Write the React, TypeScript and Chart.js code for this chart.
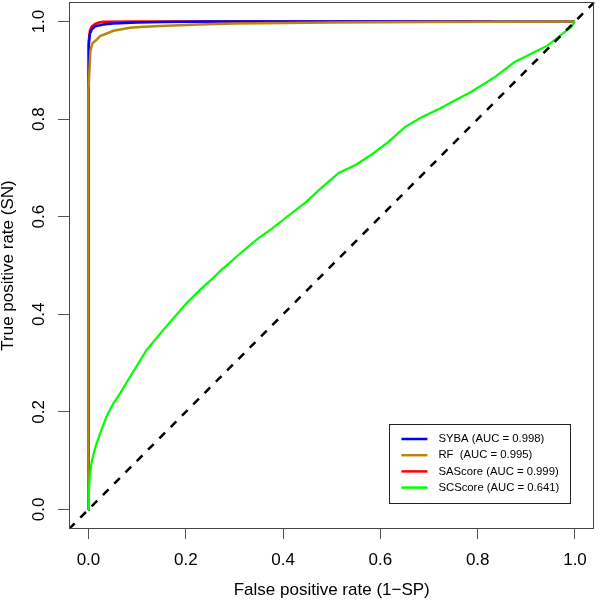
import React, { useEffect, useRef } from "react";
import { Chart, registerables } from "chart.js";

Chart.register(...registerables);

const FONT = '"Liberation Sans", Arial, Helvetica, sans-serif';

const legendLabels = [
  "SYBA (AUC = 0.998)",
  "RF  (AUC = 0.995)",
  "SAScore (AUC = 0.999)",
  "SCScore (AUC = 0.641)",
];
const seriesColors = ["#0000FF", "#B8860B", "#FF0000", "#00FF00"];

const sybaFPR = [0, 0, 0.001, 0.003, 0.007, 0.014, 0.03, 0.05, 0.1, 0.15, 0.25, 0.5, 1.0];
const sybaTPR = [0, 0.9, 0.95, 0.975, 0.984, 0.99, 0.994, 0.996, 0.998, 0.999, 1.0, 1.0, 1.0];

const rfFPR = [0, 0, 0.002, 0.004, 0.008, 0.017, 0.024, 0.044, 0.051, 0.085, 0.106, 0.147, 0.228, 0.3, 0.5, 0.7, 0.85, 1.0];
const rfTPR = [0, 0.86, 0.9, 0.94, 0.955, 0.963, 0.97, 0.978, 0.981, 0.987, 0.989, 0.991, 0.994, 0.996, 0.998, 0.999, 0.9995, 1.0];

const saFPR = [0, 0, 0.001, 0.003, 0.007, 0.014, 0.022, 0.031, 0.1, 0.4, 0.828];
const saTPR = [0, 0.93, 0.96, 0.982, 0.99, 0.995, 0.998, 0.9995, 1.0, 1.0, 1.0];

const scFPR = [0, 0.001, 0.003, 0.007, 0.015, 0.024, 0.037, 0.051, 0.065, 0.085, 0.119, 0.153, 0.201, 0.228, 0.256, 0.27, 0.303, 0.331, 0.351, 0.378, 0.412, 0.447, 0.481, 0.515, 0.549, 0.583, 0.616, 0.651, 0.685, 0.719, 0.753, 0.787, 0.835, 0.876, 0.91, 0.944, 0.971, 0.992, 1.0];
const scTPR = [0, 0.04, 0.07, 0.1, 0.13, 0.156, 0.19, 0.217, 0.238, 0.271, 0.326, 0.367, 0.422, 0.449, 0.474, 0.488, 0.517, 0.541, 0.557, 0.576, 0.603, 0.63, 0.661, 0.69, 0.706, 0.728, 0.753, 0.784, 0.804, 0.82, 0.838, 0.856, 0.886, 0.917, 0.934, 0.951, 0.972, 0.989, 1.0];

const axisMin = -0.04;
const axisMax = 1.04;
const diagonal = [axisMin, axisMax];

const xTicks = [0, 0.2, 0.4, 0.6, 0.8, 1.0];
const xTickLabels = ["0.0", "0.2", "0.4", "0.6", "0.8", "1.0"];
const yTicks = [0, 0.2, 0.4, 0.6, 0.8, 1.0];
const yTickLabels = ["0.0", "0.2", "0.4", "0.6", "0.8", "1.0"];

const xTitle = "False positive rate (1\u2212SP)";
const yTitle = "True positive rate (SN)";

const toPoints = (xs: number[], ys: number[]) => xs.map((x, i) => ({ x, y: ys[i] }));

const boxPlugin = {
  id: "rbox",
  afterDatasetsDraw(chart: any) {
    const { ctx, chartArea } = chart;
    ctx.save();
    ctx.strokeStyle = "#444";
    ctx.lineWidth = 1;
    ctx.strokeRect(
      Math.round(chartArea.left) + 0.5,
      Math.round(chartArea.top) + 0.5,
      Math.round(chartArea.right - chartArea.left) - 1,
      Math.round(chartArea.bottom - chartArea.top) - 1
    );
    ctx.restore();
  },
};

const yLabelPlugin = {
  id: "ylabels",
  afterDraw(chart: any) {
    const { ctx } = chart;
    const s = chart.scales.y;
    ctx.save();
    ctx.font = `17px ${FONT}`;
    ctx.fillStyle = "#000";
    ctx.textAlign = "center";
    ctx.textBaseline = "middle";
    yTicks.forEach((v, i) => {
      const py = s.getPixelForValue(v);
      ctx.save();
      ctx.translate(39.5, py);
      ctx.rotate(-Math.PI / 2);
      ctx.fillText(yTickLabels[i], 0, 0);
      ctx.restore();
    });
    ctx.restore();
  },
};

const legendPlugin = {
  id: "rlegend",
  afterDraw(chart: any) {
    const { ctx, chartArea } = chart;
    const right = chartArea.right - 24;
    const bottom = chartArea.bottom - 26;
    const left = right - 181;
    const top = bottom - 79;
    ctx.save();
    ctx.fillStyle = "#fff";
    ctx.fillRect(left, top, right - left, bottom - top);
    ctx.strokeStyle = "#222";
    ctx.lineWidth = 1;
    ctx.strokeRect(Math.round(left) + 0.5, Math.round(top) + 0.5, Math.round(right - left), Math.round(bottom - top));
    ctx.font = `11.3px ${FONT}`;
    ctx.textBaseline = "middle";
    ctx.textAlign = "left";
    legendLabels.forEach((label, i) => {
      const cy = top + 15 + i * 16.2;
      ctx.strokeStyle = seriesColors[i];
      ctx.lineWidth = 2.5;
      ctx.beginPath();
      ctx.moveTo(left + 12, cy);
      ctx.lineTo(left + 38, cy);
      ctx.stroke();
      ctx.fillStyle = "#000";
      ctx.fillText(label, left + 49, cy);
    });
    ctx.restore();
  },
};

export default function App() {
  const ref = useRef<HTMLCanvasElement | null>(null);
  useEffect(() => {
    if (!ref.current) return;
    const line = (data: any, color: string, order: number, extra: any = {}) => ({
      data,
      borderColor: color,
      backgroundColor: color,
      borderWidth: 2.5,
      showLine: true,
      pointRadius: 0,
      tension: 0,
      fill: false,
      order,
      ...extra,
    });
    const chart = new Chart(ref.current, {
      type: "scatter",
      data: {
        datasets: [
          line(toPoints(sybaFPR, sybaTPR), seriesColors[0], 3),
          line(toPoints(rfFPR, rfTPR), seriesColors[1], 2),
          line(toPoints(saFPR, saTPR), seriesColors[2], 4),
          line(toPoints(scFPR, scTPR), seriesColors[3], 1, { borderWidth: 2.2 }),
          line(toPoints(diagonal, diagonal), "#000", 0, { borderDash: [8, 8], borderWidth: 2.5 }),
        ],
      },
      options: {
        responsive: false,
        animation: false,
        layout: { padding: { top: 2, right: 5, left: 0, bottom: 0 } },
        plugins: {
          legend: { display: false },
          tooltip: { enabled: false },
          title: { display: false },
        },
        scales: {
          x: {
            type: "linear",
            position: "bottom",
            min: axisMin,
            max: axisMax,
            afterBuildTicks: (s: any) => {
              s.ticks = xTicks.map((v) => ({ value: v }));
            },
            afterFit: (s: any) => {
              s.height = 74;
            },
            ticks: {
              autoSkip: false,
              maxRotation: 0,
              minRotation: 0,
              padding: 13,
              color: "#000",
              font: { family: FONT, size: 17, lineHeight: 1 },
              callback: (_v: any, i: number) => xTickLabels[i],
            },
            grid: {
              display: true,
              drawOnChartArea: false,
              drawTicks: true,
              tickLength: 10,
              color: "#555",
              lineWidth: 1,
            },
            border: { display: false },
            title: {
              display: true,
              text: xTitle,
              color: "#000",
              font: { family: FONT, size: 17, lineHeight: 1 },
              padding: { top: 0, bottom: 4.5 },
            },
          },
          y: {
            type: "linear",
            position: "left",
            min: axisMin,
            max: axisMax,
            afterBuildTicks: (s: any) => {
              s.ticks = yTicks.map((v) => ({ value: v }));
            },
            afterFit: (s: any) => {
              s.width = 69;
            },
            ticks: {
              display: false,
              autoSkip: false,
              callback: (_v: any, i: number) => yTickLabels[i],
            },
            grid: {
              display: true,
              drawOnChartArea: false,
              drawTicks: true,
              tickLength: 11,
              color: "#555",
              lineWidth: 1,
            },
            border: { display: false },
            title: {
              display: true,
              text: yTitle,
              color: "#000",
              font: { family: FONT, size: 17, lineHeight: 1 },
              padding: { top: 0, bottom: 0 },
            },
          },
        },
      },
      plugins: [boxPlugin, yLabelPlugin, legendPlugin],
    } as any);
    return () => chart.destroy();
  }, []);
  return (
    <div style={{ position: "absolute", left: 0, top: 0, width: 600, height: 603, background: "#fff" }}>
      <canvas ref={ref} width={600} height={603} style={{ display: "block", width: 600, height: 603 }} />
    </div>
  );
}
